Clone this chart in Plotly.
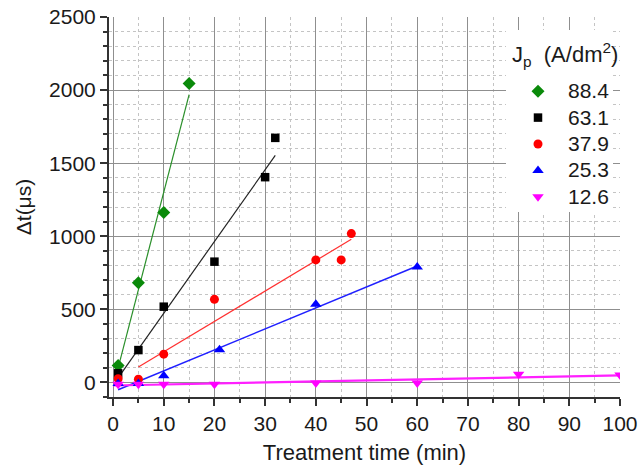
import numpy as np
import plotly.graph_objects as go

# ---- data ----
labels = ["88.4", "63.1", "37.9", "25.3", "12.6"]
x_884 = [1, 5, 10, 15]
y_884 = [115, 682, 1163, 2045]
x_631 = [1, 5, 10, 20, 30, 32]
y_631 = [62, 221, 518, 826, 1404, 1673]
x_379 = [1, 5, 10, 20, 40, 45, 47]
y_379 = [25, 22, 193, 568, 838, 838, 1018]
x_253 = [1, 5, 10, 21, 40, 60]
y_253 = [-8, -8, 45, 224, 535, 790]
x_126 = [1, 5, 10, 20, 40, 60, 80, 100]
y_126 = [-12, -12, -12, -12, -5, -5, 55, 50]
# x-span over which each linear fit line is drawn
fit_span = [(1, 15), (1, 32), (5, 47), (1, 60), (0, 100)]

colors = ["#0a8a0a", "#000000", "#ff0000", "#0000ff", "#ff00ff"]
line_colors = ["#2a8f2a", "#222222", "#ff3030", "#2020ff", "#ff20ff"]
line_widths = [1.2, 1.2, 1.2, 1.5, 2.2]
symbols = ["diamond", "square", "circle", "triangle-up", "triangle-down"]
sizes = [10, 8.5, 9, 10, 10]

series = [(x_884, y_884), (x_631, y_631), (x_379, y_379), (x_253, y_253), (x_126, y_126)]

W, H = 638, 465
ML, MR, MT, MB = 109, 18, 17, 68
PW, PH = W - ML - MR, H - MT - MB


def px_to_paper(px, py):
    return (px - ML) / PW, (H - MB - py) / PH


fig = go.Figure()
for i, (xs, ys) in enumerate(series):
    k, b = np.polyfit(xs, ys, 1)
    fx = np.array(fit_span[i], dtype=float)
    fig.add_trace(go.Scatter(x=fx, y=k * fx + b, mode="lines",
                             line=dict(color=line_colors[i], width=line_widths[i]),
                             showlegend=False, hoverinfo="skip"))
for i, (xs, ys) in enumerate(series):
    fig.add_trace(go.Scatter(x=xs, y=ys, mode="markers",
                             name='<span style="font-size:21px">%s</span>' % labels[i],
                             marker=dict(symbol=symbols[i], size=sizes[i],
                                         color=colors[i], line=dict(width=0))))

font = "Liberation Sans, Arial, sans-serif"
axis_common = dict(
    showline=True, linecolor="#333333", linewidth=2, mirror=False,
    ticks="outside", ticklen=7, tickwidth=1.5, tickcolor="#333333",
    showgrid=True, gridcolor="#8f8f8f", gridwidth=1.2,
    zeroline=False, automargin=False,
    tickfont=dict(family=font, size=21, color="#1a1a1a"),
)

# white box behind the legend (hides the grid there, as in the reference)
bx0, by1 = px_to_paper(506, 30)
bx1, by0 = px_to_paper(613, 212)
tx, ty = px_to_paper(565, 55)
lx, ly = px_to_paper(508, 73)

fig.update_layout(
    width=W, height=H,
    margin=dict(l=ML, r=MR, t=MT, b=MB),
    paper_bgcolor="white", plot_bgcolor="white",
    font=dict(family=font, color="#1a1a1a"),
    xaxis=dict(range=[-0.8, 100], tick0=0, dtick=10,
               title=dict(text="Treatment time (min)", font=dict(family=font, size=22), standoff=20),
               minor=dict(dtick=5, tick0=0, ticks="outside", ticklen=4, tickcolor="#333333",
                          showgrid=True, gridcolor="#c4c4c4", griddash="dot", gridwidth=1),
               **axis_common),
    yaxis=dict(range=[-100, 2500], tick0=0, dtick=500,
               title=dict(text="Δt(μs)", font=dict(family=font, size=21), standoff=12),
               minor=dict(dtick=100, tick0=0, ticks="outside", ticklen=4, tickcolor="#333333",
                          showgrid=True, gridcolor="#c4c4c4", griddash="dot", gridwidth=1),
               **axis_common),
    shapes=[dict(type="rect", xref="paper", yref="paper", x0=bx0, x1=bx1, y0=by0, y1=by1,
                 fillcolor="white", line=dict(width=0), layer="above")],
    annotations=[dict(text="J<sub>p</sub>\u00a0 (A/dm<sup>2</sup>)", xref="paper", yref="paper",
                      x=tx, y=ty, xanchor="center", yanchor="middle", showarrow=False,
                      font=dict(family=font, size=22, color="#1a1a1a"))],
    legend=dict(x=lx, y=ly, xanchor="left", yanchor="top",
                bgcolor="rgba(0,0,0,0)", borderwidth=0,
                font=dict(family=font, size=18, color="#1a1a1a"),
                itemwidth=50, tracegroupgap=0),
)
fig.write_html("out.html")
